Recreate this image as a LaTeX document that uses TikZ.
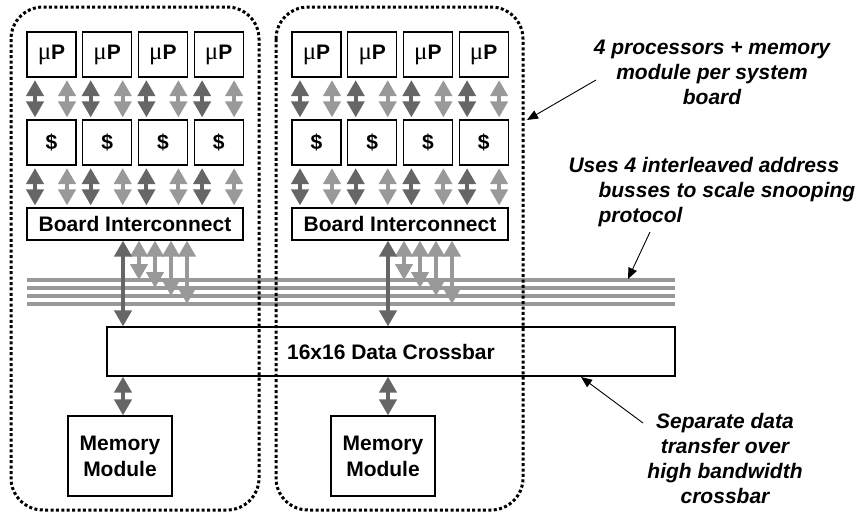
\documentclass[tikz,border=0pt]{standalone}
\usepackage{fontspec}
\setmainfont{Liberation Sans}
\newfontfamily\greekfont{Liberation Serif}
\usetikzlibrary{arrows.meta}

\definecolor{arrdark}{gray}{0.40}
\definecolor{arrlight}{gray}{0.60}
\definecolor{buscol}{gray}{0.60}

\begin{document}
\begin{tikzpicture}[x=1pt, y=-1pt,
  unit/.style={
    draw, line width=1.2pt, inner sep=0pt, fill=white,
    align=center, font=\fontsize{21}{26}\selectfont\bfseries},
  cpu/.style={unit, minimum width=49pt, minimum height=45pt},
  bic/.style={unit, minimum width=216pt, minimum height=32pt},
  xbar/.style={unit, minimum width=568pt, minimum height=49pt},
  mem/.style={unit, minimum width=104pt, minimum height=80pt},
  board/.style={draw, line width=3pt, dash pattern=on 3pt off 2.4pt,
    rounded corners=32pt},
  fat/.style={line width=4pt,
    {Triangle[length=16pt,width=17pt]}-{Triangle[length=16pt,width=17pt]}},
  darr/.style={fat, draw=arrdark},
  larr/.style={fat, draw=arrlight},
  gap/.style={shorten <=2.5pt, shorten >=2pt},
  bus/.style={line width=4pt, draw=buscol},
  note/.style={align=center, font=\fontsize{21}{25}\selectfont\bfseries\itshape},
  pointer/.style={line width=0.9pt, -{Triangle[length=11pt,width=9pt]}},
]
\useasboundingbox (0,0) rectangle (861,515);

%% ---- Address busses ----
\foreach \k in {0,...,3} {
  \coordinate (bs\k) at (27,{280+8*\k});
  \coordinate (be\k) at (675,{280+8*\k});
  \draw[bus] (bs\k) -- (be\k);
}

%% ---- Crossbar ----
\node[xbar] (xb) at (391,351.5) {16x16 Data Crossbar};

%% ---- Two system boards ----
\foreach \b/\dx in {0/0, 1/265} {
  \node[bic] (bi\b) at ({135+\dx},224) {Board Interconnect};
  \foreach \i in {0,...,3} {
    \node[cpu] (mp\b\i) at ({51.5+55.7*\i+\dx},54.5)
      {{\greekfont\mdseries\fontsize{25}{26}\selectfont μ}P};
    \node[cpu] (ca\b\i) at ({51.5+55.7*\i+\dx},142.5) {\$};
    \draw[darr, gap] ([xshift=-16.5pt]mp\b\i.south) -- ([xshift=-16.5pt]ca\b\i.north);
    \draw[larr, gap] ([xshift=15.5pt]mp\b\i.south) -- ([xshift=15.5pt]ca\b\i.north);
    \draw[darr, gap] ([xshift=-16.5pt]ca\b\i.south) -- ([xshift=-16.5pt]ca\b\i.south |- bi\b.north);
    \draw[larr, gap] ([xshift=15.5pt]ca\b\i.south) -- ([xshift=15.5pt]ca\b\i.south |- bi\b.north);
  }
  % board to address busses
  \foreach \k in {0,...,3} {
    \draw[larr] ([xshift={4+16*\k}]bi\b.south) -- ([xshift={4+16*\k}]bi\b.south |- bs\k);
  }
  % board to crossbar
  \draw[darr] ([xshift=-12pt]bi\b.south) -- ([xshift=-12pt]bi\b.south |- xb.north);
}

%% ---- Memory modules ----
\node[mem] (mem0) at (120,456) {Memory\\Module};
\node[mem] (mem1) at (383,456) {Memory\\Module};
\draw[darr] ([xshift=-12pt]bi0.south |- xb.south) -- ([xshift=-12pt]bi0.south |- mem0.north);
\draw[darr] ([xshift=-12pt]bi1.south |- xb.south) -- ([xshift=-12pt]bi1.south |- mem1.north);

%% ---- Board outlines ----
\draw[board] (11,7) rectangle (259,510);
\draw[board] (276,7) rectangle (523,510);

%% ---- Notes ----
\node[note] (nbrd) at (712,72) {4 processors + memory\\module per system\\board};
\node[note, align=left, anchor=west] (nbus) at (565,192)
  {Uses 4 interleaved address\\\hspace*{30pt}busses to scale snooping\\\hspace*{30pt}protocol};
\node[note] (nxb) at (725,458) {Separate data\\transfer over\\high bandwidth\\crossbar};

\coordinate (pbrd0) at (596,80);  \coordinate (pbrd1) at (527,120);
\coordinate (pbus0) at (650,232); \coordinate (pbus1) at (628,279);
\coordinate (pxb0)  at (643,423); \coordinate (pxb1)  at (581,377);
\draw[pointer] (pbrd0) -- (pbrd1);
\draw[pointer] (pbus0) -- (pbus1);
\draw[pointer] (pxb0) -- (pxb1);

\end{tikzpicture}
\end{document}
